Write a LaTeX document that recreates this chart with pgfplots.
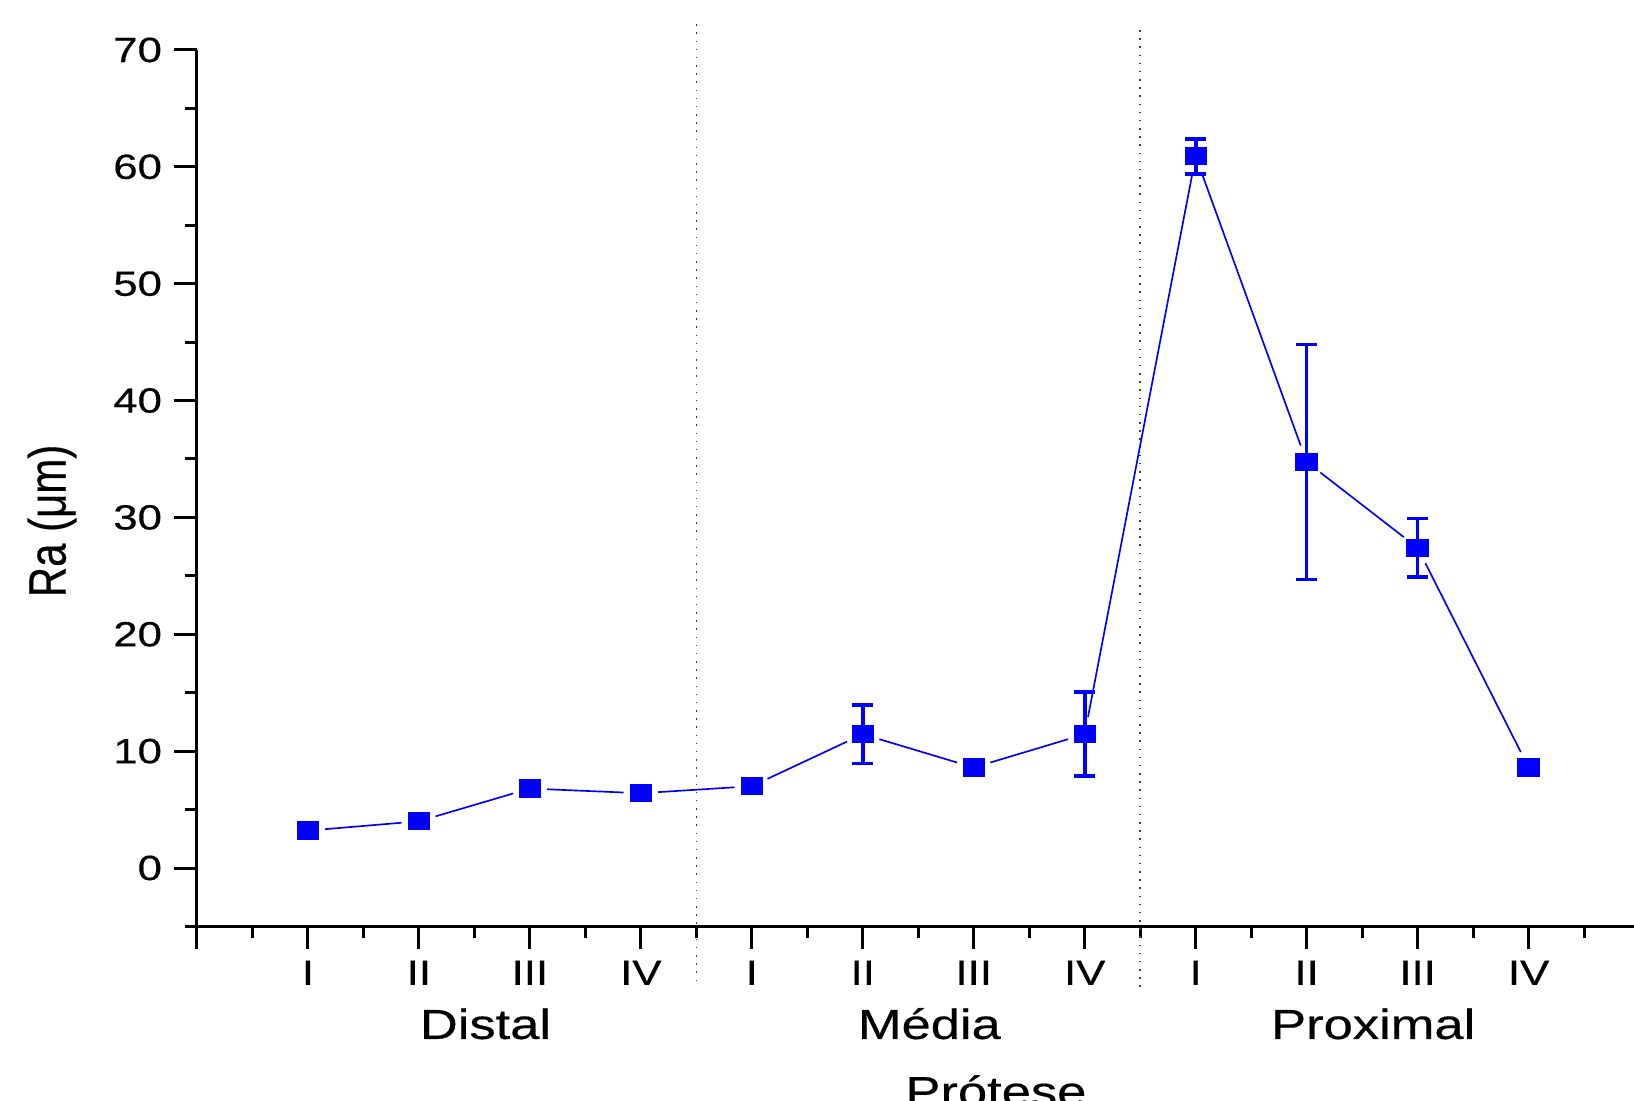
\documentclass[border=0pt]{standalone}
\usepackage{fontspec}
\setmainfont[FakeStretch=1.25, FakeBold=0.4]{Liberation Sans}
\newfontfamily\plainfont[FakeBold=0.4]{Liberation Sans}
\usepackage{graphicx}
\usepackage{pgfplots}
\pgfplotsset{compat=1.18}
\usepackage{pgfplotstable}

\pgfplotstableread{
x y e
1 3.2 0
2 4.0 0
3 6.8 0
4 6.4 0
5 7.0 0
6 11.45 2.5
7 8.6 0
8 11.45 3.6
9 60.9 1.5
10 34.75 10.05
11 27.4 2.5
12 8.6 0
}\datatable

\begin{document}
\begin{tikzpicture}
\begin{axis}[
  name=ax,
  scale only axis, width=431.2pt, height=263pt,
  xmin=0, xmax=12.95, ymin=-5, ymax=70,
  axis x line=bottom, axis y line=left,
  axis line style={-, line width=0.9pt},
  every outer x axis line/.append style={-},
  every outer y axis line/.append style={-},
  every tick/.style={black, line width=0.9pt},
  tick align=outside,
  major tick length=6.9pt, minor tick length=3.6pt,
  xtick={0,...,12},
  xticklabels={,I,II,III,IV,I,II,III,IV,I,II,III,IV},
  minor xtick={0.5,1.5,...,12.5},
  ytick={0,10,...,70},
  minor ytick={-5,5,...,65},
  tick label style={font=\fontsize{10.5}{12}\selectfont},
  xticklabel style={anchor=north, inner sep=0pt, yshift=-3.2pt},
  yticklabel style={anchor=east, inner sep=0pt, xshift=-3.4pt},
  /pgf/number format/assume math mode=true,
  clip=false,
  seg/.style={blue, line width=0.5pt, no marks, shorten <=5.2pt, shorten >=5.2pt, forget plot},
]
\draw[black!75, line width=0.45pt, dotted] (axis cs:4.5,72.2) -- (axis cs:4.5,-10);
\draw[black!75, line width=0.45pt, dotted] (axis cs:8.5,71.7) -- (axis cs:8.5,-10.5);
% connecting line, drawn segment by segment with a gap at each marker
\addplot[seg] coordinates {(1,3.2) (2,4.0)};
\addplot[seg] coordinates {(2,4.0) (3,6.8)};
\addplot[seg] coordinates {(3,6.8) (4,6.4)};
\addplot[seg] coordinates {(4,6.4) (5,7.0)};
\addplot[seg] coordinates {(5,7.0) (6,11.45)};
\addplot[seg] coordinates {(6,11.45) (7,8.6)};
\addplot[seg] coordinates {(7,8.6) (8,11.45)};
\addplot[seg] coordinates {(8,11.45) (9,60.9)};
\addplot[seg] coordinates {(9,60.9) (10,34.75)};
\addplot[seg] coordinates {(10,34.75) (11,27.4)};
\addplot[seg] coordinates {(11,27.4) (12,8.6)};
% markers with error bars
\addplot[only marks, mark=square*, mark size=2.55pt, blue,
  mark options={xscale=1.235, draw=blue, fill=blue},
  error bars/.cd, y dir=both, y explicit,
  error bar style={line width=1.1pt, blue},
  error mark options={rotate=90, mark size=3.15pt, line width=1.1pt, blue}]
  table[x=x, y=y, y error=e] {\datatable};
\node[anchor=base, font=\fontsize{12.6}{15}\selectfont] at ([yshift=-33.75pt]axis cs:2.6,-5) {Distal};
\node[anchor=base, font=\fontsize{12.6}{15}\selectfont] at ([yshift=-33.75pt]axis cs:6.6,-5) {Média};
\node[anchor=base, font=\fontsize{12.6}{15}\selectfont] at ([yshift=-33.75pt]axis cs:10.6,-5) {Proximal};
\node[anchor=base, font=\fontsize{12.6}{15}\selectfont] at ([yshift=-53.9pt]axis cs:7.2,-5) {Prótese};
\node[rotate=90, inner sep=0pt] at ([xshift=-43.5pt]axis cs:0,29.7)
  {\scalebox{1}[1.25]{\plainfont\fontsize{12.6}{15}\selectfont Ra (μm)}};
\end{axis}
\pgfresetboundingbox
\path[use as bounding box] ([xshift=-59.1pt,yshift=15pt]ax.north west) rectangle ([yshift=-52.3pt]ax.south east);
\end{tikzpicture}
\end{document}
